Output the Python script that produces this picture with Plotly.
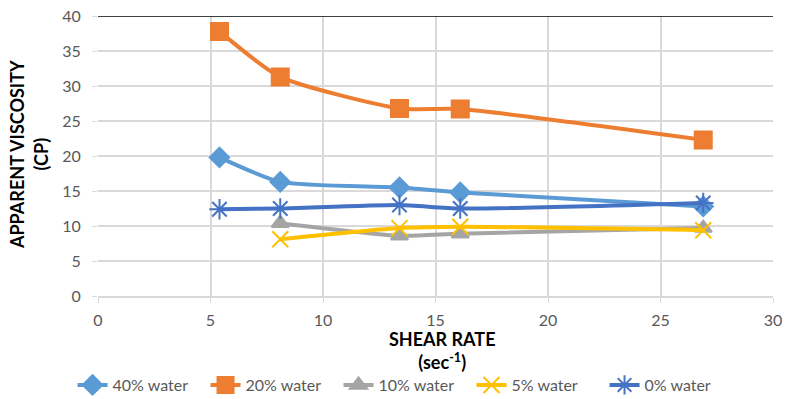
import plotly.graph_objects as go

series_names = ["40% water", "20% water", "10% water", "5% water", "0% water"]
x_full = [5.4, 8.1, 13.4, 16.1, 26.9]
x_part = [8.1, 13.4, 16.1, 26.9]
y_40 = [19.8, 16.3, 15.5, 14.8, 12.8]
y_20 = [37.8, 31.3, 26.8, 26.7, 22.3]
y_10 = [10.4, 8.6, 8.9, 9.7]
y_5 = [8.1, 9.7, 9.9, 9.4]
y_0 = [12.4, 12.5, 13.0, 12.5, 13.3]

colors = ["#5B9BD5", "#ED7D31", "#A5A5A5", "#FFC000", "#4472C4"]
symbols = ["diamond", "square", "triangle-up", "x-thin-open", "asterisk-open"]
sizes = [15, 17, 15, 16, 17]
xs = [x_full, x_full, x_part, x_part, x_full]
ys = [y_40, y_20, y_10, y_5, y_0]

fig = go.Figure()
for name, x, y, c, s, sz in zip(series_names, xs, ys, colors, symbols, sizes):
    fig.add_trace(go.Scatter(
        x=x, y=y, name=name, mode="lines+markers",
        line=dict(color=c, width=4, shape="spline", smoothing=0.6),
        marker=dict(symbol=s, size=sz, color=c, line=dict(color=c, width=2)),
    ))

font_fam = "Lato, 'Liberation Sans', sans-serif"
fig.update_layout(
    width=788, height=399,
    margin=dict(l=98, r=15, t=16, b=103),
    paper_bgcolor="white", plot_bgcolor="white",
    font=dict(family=font_fam, color="#595959", size=16),
    showlegend=True,
    legend=dict(orientation="h", xref="container", yref="container",
                x=0.514, xanchor="center", y=0.035, yanchor="middle",
                entrywidth=88, entrywidthmode="pixels",
                font=dict(size=16, color="#595959"), tracegroupgap=0),
    xaxis=dict(range=[0, 30], dtick=5, showgrid=True, gridcolor="#D9D9D9", gridwidth=1.5,
               zeroline=False, showline=True, linecolor="#D9D9D9", linewidth=1.5,
               ticks="outside", ticklen=5, tickcolor="#D9D9D9", automargin=False,
               ticklabelstandoff=4,
               tickfont=dict(size=16, color="#595959")),
    yaxis=dict(range=[0, 40], dtick=5, showgrid=True, gridcolor="#D9D9D9", gridwidth=1.5,
               zeroline=False, showline=False, automargin=False,
               ticks="outside", ticklen=5, tickcolor="#D9D9D9",
               ticklabelstandoff=8,
               tickfont=dict(size=16, color="#595959")),
    annotations=[
        dict(text="<b>SHEAR RATE</b><br><b>(sec<sup>-1</sup>)</b>", xref="paper", yref="paper",
             x=0.511, y=-0.193, xanchor="center", yanchor="middle", showarrow=False,
             font=dict(size=18, color="black")),
        dict(text="<b>APPARENT VISCOSITY</b><br><b>(CP)</b>", xref="paper", yref="paper",
             x=-0.102, y=0.504, xanchor="center", yanchor="middle", showarrow=False,
             textangle=-90, font=dict(size=18, color="black")),
    ],
    shapes=[dict(type="line", xref="paper", yref="y", x0=0, x1=1, y0=40, y1=40,
                 line=dict(color="black", width=1.5), layer="above")],
)
fig.write_html("out.html")
